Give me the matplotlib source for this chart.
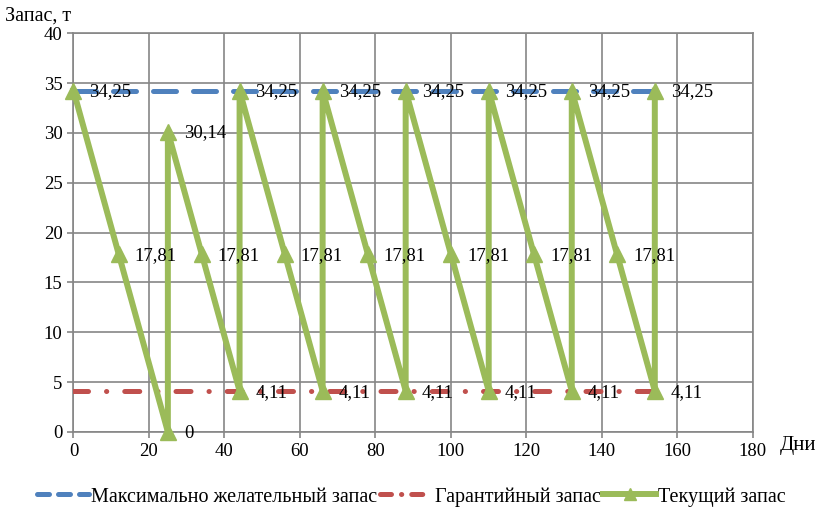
import matplotlib
matplotlib.use("Agg")
import matplotlib.pyplot as plt
from matplotlib.lines import Line2D

plt.rcParams['font.family'] = ['Liberation Serif', 'DejaVu Serif']

# Days and current stock (sawtooth of deliveries and consumption)
days = [0, 12, 25, 25, 34, 44, 44, 56, 66, 66, 78, 88, 88, 100, 110, 110,
        122, 132, 132, 144, 154, 154]
current_stock = [34.25, 17.81, 0, 30.14, 17.81, 4.11, 34.25, 17.81, 4.11, 34.25,
                 17.81, 4.11, 34.25, 17.81, 4.11, 34.25, 17.81, 4.11, 34.25,
                 17.81, 4.11, 34.25]
max_stock = [34.25] * len(days)
safety_stock = [4.11] * len(days)

series_names = ["Максимально желательный запас", "Гарантийный запас", "Текущий запас"]
x_ticks = list(range(0, 181, 20))
y_ticks = list(range(0, 41, 5))

blue = "#4F81BD"
red = "#C0504D"
green = "#9BBB59"
grid_col = "#868686"

fig = plt.figure(figsize=(8.22, 5.09), dpi=100)
ax = fig.add_axes([0.0894, 0.1516, 0.8266, 0.7829])

lw = 3.6
ax.plot(days, max_stock, color=blue, lw=lw, dashes=(4.6, 3.4),
        dash_capstyle='round', zorder=3)
ax.plot(days, safety_stock, color=red, lw=lw, dashes=(3.0, 3.6, 0.05, 3.6),
        dash_capstyle='round', zorder=3)
ax.plot(days, current_stock, color=green, lw=4.3, marker='^', markersize=11,
        markeredgecolor=green, markerfacecolor=green, zorder=4, clip_on=False)

for x, y in zip(days, current_stock):
    ax.annotate(f"{y:g}".replace('.', ','), (x, y), xytext=(11.5, -1),
                textcoords='offset points', ha='left', va='center',
                fontsize=13.5, color='black', zorder=5)

ax.set_xlim(0, 180)
ax.set_ylim(0, 40)
ax.set_xticks(x_ticks)
ax.set_yticks(y_ticks)
ax.tick_params(axis='both', labelsize=13.5, length=4, width=1.2, color=grid_col,
               pad=4)
ax.grid(True, color=grid_col, lw=1.2, zorder=0)
ax.set_axisbelow(True)
for s in ax.spines.values():
    s.set_color(grid_col)
    s.set_linewidth(1.2)

fig.text(0.006, 0.968, "Запас, т", fontsize=14.5, ha='left', va='center')
fig.text(0.949, 0.124, "Дни", fontsize=15, ha='left', va='center')

handles = [
    Line2D([], [], color=blue, lw=lw, dashes=(2.4, 1.8), dash_capstyle='round'),
    Line2D([], [], color=red, lw=lw, dashes=(2.2, 2.0, 0.05, 2.0), dash_capstyle='round'),
    Line2D([], [], color=green, lw=4.3, marker='^', markersize=9),
]
fig.legend(handles, series_names, loc='center', bbox_to_anchor=(0.5, 0.024),
           ncol=3, frameon=False, fontsize=14.5, handlelength=2.6,
           handletextpad=0.1, columnspacing=0.15, borderaxespad=0)

fig.savefig("out.png", dpi=100)
